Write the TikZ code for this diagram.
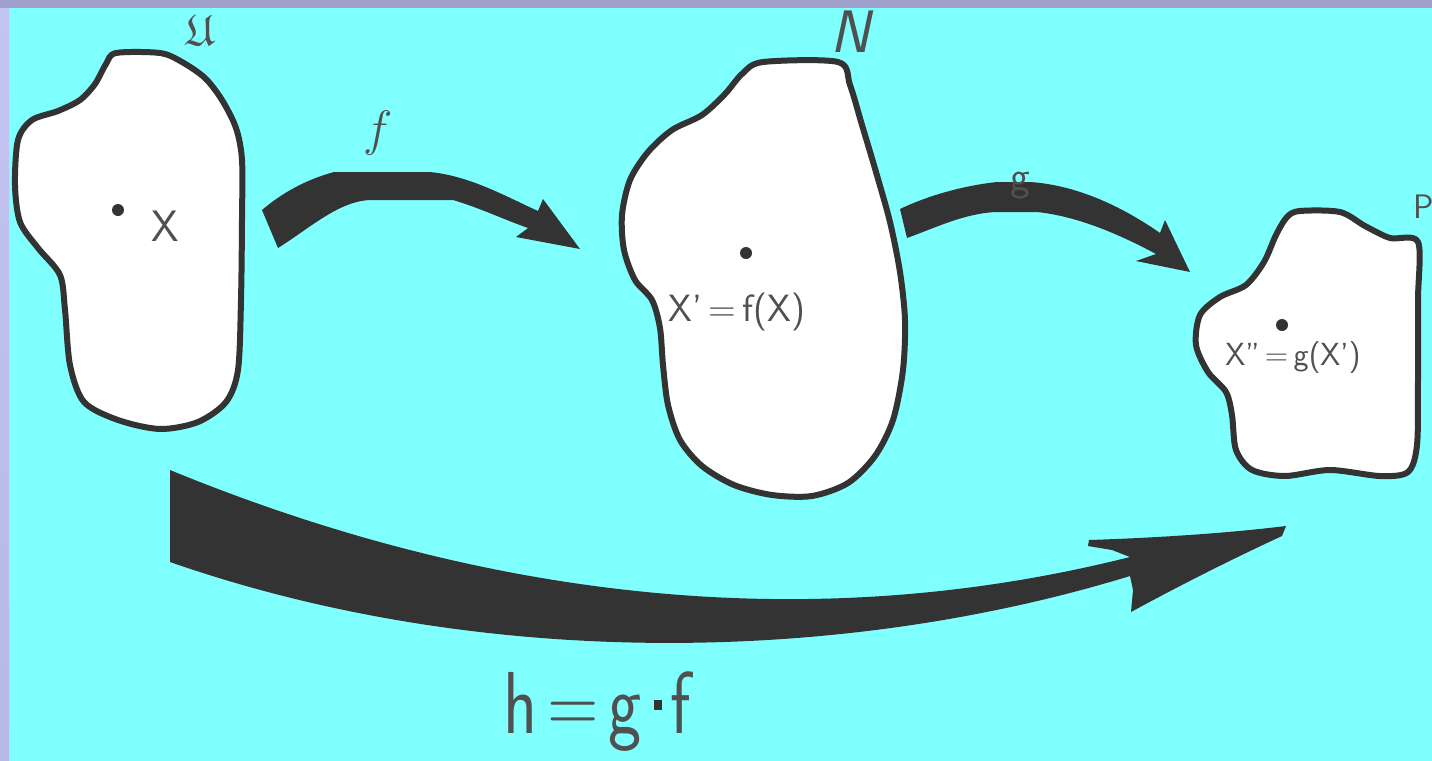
\documentclass[tikz,border=0pt]{standalone}
\usepackage{amssymb}
\usepackage{fontspec}
\definecolor{bgcyan}{HTML}{80FFFF}
\definecolor{topband}{HTML}{A0A0CC}
\definecolor{sidetop}{HTML}{C4C4F2}
\definecolor{sidebot}{HTML}{B8B8E6}
\definecolor{ink}{HTML}{333333}
\definecolor{txt}{HTML}{505050}
\begin{document}
\begin{tikzpicture}[x=0.5pt,y=-0.5pt,
  blob/.style={draw=ink, fill=white, line width=3pt, line join=round},
  bigarrow/.style={fill=ink},
  dotpt/.style={circle, fill=ink, inner sep=0pt, minimum size=6pt},
  lbl/.style={text=txt, font=\sffamily, inner sep=0pt}]
\useasboundingbox (0,0) rectangle (1432,761);
\fill[bgcyan] (0,0) rectangle (1432,761);
\shade[top color=sidetop, bottom color=sidebot] (0,0) rectangle (9,761);
\fill[topband] (0,0) rectangle (1432,8);

% blob U
\draw[blob] plot[smooth cycle, tension=0.5] coordinates {
 (116,53) (160,53) (182,62) (205,78) (222,100) (236,128) (242,160) (242,220)
 (241,300) (238,370) (226,402) (198,422) (160,429) (118,420) (84,402) (70,365)
 (65,310) (60,275) (38,248) (20,222) (15,185) (18,140) (32,120) (58,111)
 (80,100) (95,84) (106,64)};
% blob N
\draw[blob] plot[smooth cycle, tension=0.5] coordinates {
 (763,62) (838,62) (850,85) (862,125) (876,172) (890,222) (900,272) (905,320)
 (903,370) (893,420) (875,456) (848,483) (812,496) (772,495) (734,485) (702,466)
 (680,440) (668,405) (663,365) (660,328) (652,300) (635,280) (624,250) (622,215)
 (630,180) (648,152) (672,130) (702,115) (725,94) (742,74)};
% blob P
\draw[blob] plot[smooth cycle, tension=0.5] coordinates {
 (1300,211) (1340,212) (1365,226) (1390,238) (1418,242) (1418,300) (1418,380)
 (1417,445) (1408,472) (1380,476) (1330,470) (1285,476) (1252,470) (1236,450)
 (1232,415) (1226,392) (1208,372) (1196,345) (1200,315) (1220,297) (1246,285)
 (1264,262) (1276,235) (1287,217)};

% dots
\node[dotpt] (x1) at (118,210) {};
\node[dotpt] (x2) at (746,253) {};
\node[dotpt] (x3) at (1282,325) {};

% arrow f
\fill[bigarrow] (262,210) -- (278,248) .. controls (310,228) and (340,200) .. (372,200)
 -- (453,200) .. controls (480,208) and (505,220) .. (528,228) -- (516,237)
 -- (580,249) -- (543,199) -- (538,211) .. controls (505,196) and (470,176) .. (430,172)
 -- (334,172) .. controls (305,180) and (282,193) .. (262,210) -- cycle;
% arrow g
\fill[bigarrow] (900,209) -- (907,238) .. controls (935,228) and (965,213) .. (997,212)
 -- (1037,212) .. controls (1075,216) and (1115,232) .. (1156,254) -- (1136,261)
 -- (1190,272) -- (1165,220) -- (1160,233) .. controls (1120,205) and (1075,185) .. (1030,182)
 -- (997,182) .. controls (960,186) and (925,197) .. (900,209) -- cycle;
% arrow h
\fill[bigarrow] (170,470) -- (170,562) .. controls (480,670) and (840,665) .. (1130,576)
 -- (1133,590) -- (1131,612) .. controls (1175,588) and (1230,560) .. (1282,536)
 -- (1286,526) .. controls (1220,534) and (1150,538) .. (1089,540) -- (1088,546)
 -- (1112,550) -- (1130,557) .. controls (780,645) and (450,585) .. (170,470) -- cycle;

% labels
\node[lbl] (lU) at (200,30) {\fontsize{22}{22}\selectfont$\mathfrak{U}$};
\node[lbl] (lX) at (165,226) {\fontsize{22}{22}\selectfont X};
\node[lbl] (lf) at (378,133) {\fontsize{26}{26}\selectfont$f$};
\node[lbl] (lN) at (850,32) {\fontsize{30}{30}\selectfont\slshape N};
\node[lbl] (lg) at (1020,186) {\fontsize{21}{21}\selectfont g};
\node[lbl] (lP) at (1424,207) {\fontsize{17}{17}\selectfont P};
\node[lbl] (lXp) at (737,312) {\fontsize{19}{19}\selectfont X'\,=\,f(X)};
\node[lbl] (lXpp) at (1293,358) {\fontsize{16}{16}\selectfont X''\,=\,g(X')};
\node[lbl] (lh) at (597,712) {\scalebox{0.8}[1]{\fontsize{44}{44}\selectfont h\hspace{6pt}=\hspace{6pt}g\hspace{8pt}\textcolor{ink}{\rule[12pt]{5pt}{5pt}}\hspace{5pt}f}};
\end{tikzpicture}
\end{document}
